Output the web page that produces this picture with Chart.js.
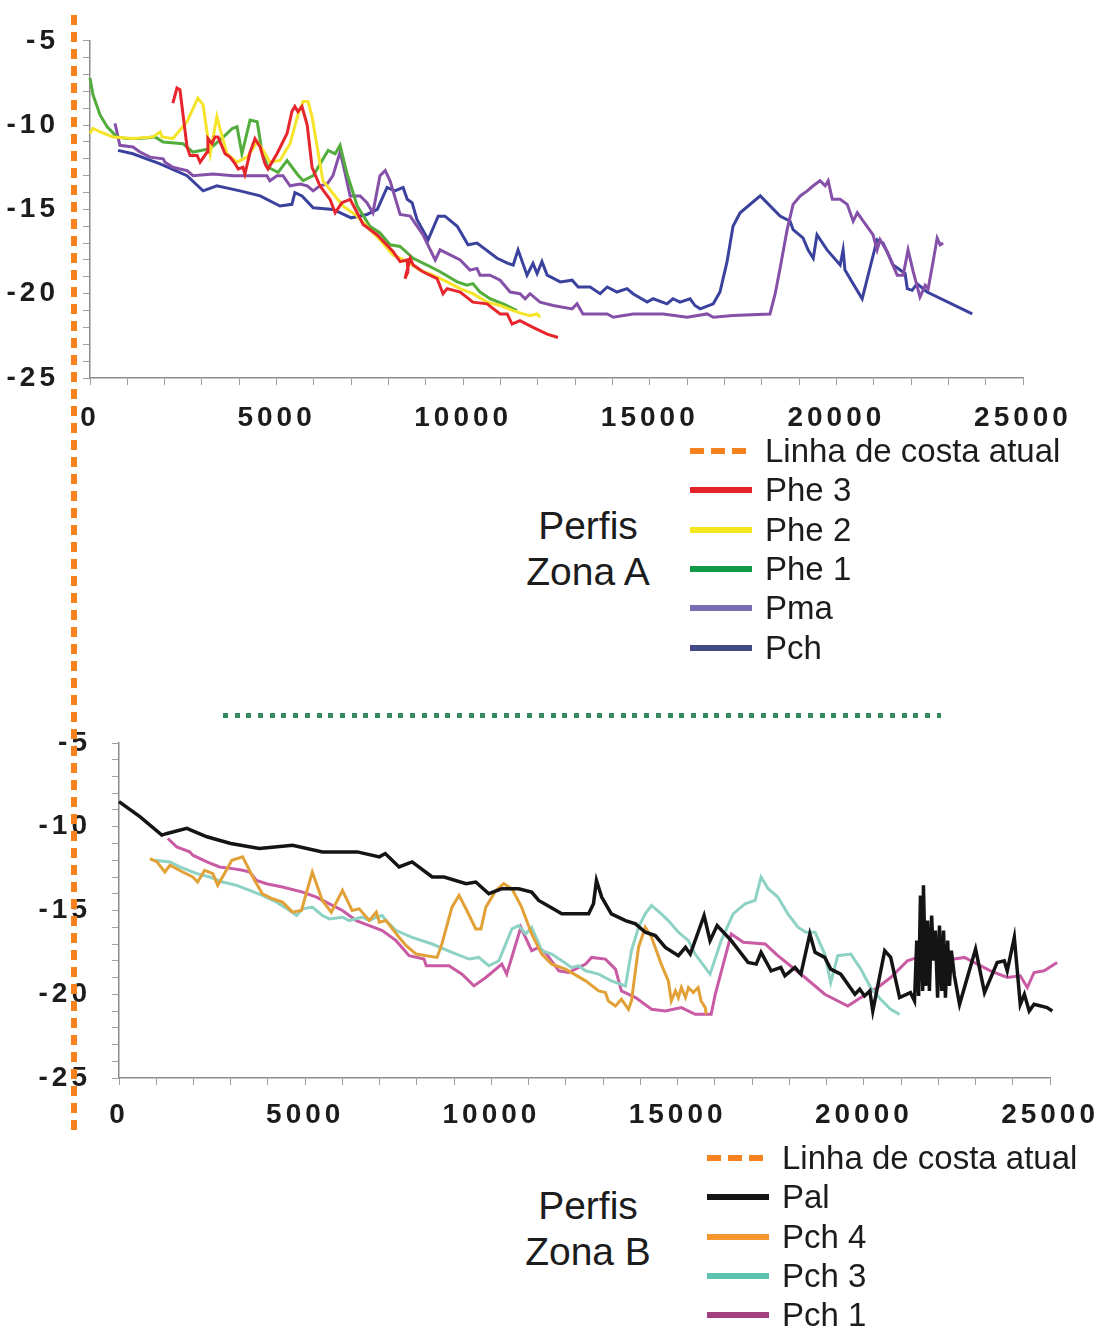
<!DOCTYPE html>
<html>
<head>
<meta charset="utf-8">
<script src="https://cdn.jsdelivr.net/npm/chart.js@4/dist/chart.umd.min.js"></script>
<style>
  body { margin:0; background:#fff; width:1102px; height:1328px; position:relative; overflow:hidden;
         font-family:"Liberation Sans", Arial, sans-serif; color:#1c1c1c; }
  canvas { position:absolute; left:0; }
  #zonaA { top:0; }
  #zonaB { top:700px; }
  .coast { position:absolute; left:71px; top:15px; width:6px; height:1117px; z-index:5;
           background:repeating-linear-gradient(to bottom,#f5821f 0 10px,transparent 10px 17px); }
  .sep { position:absolute; left:223px; top:713px; width:718px; height:5px;
         background:repeating-linear-gradient(to right,#35895f 0 5px,transparent 5px 11.7px); }
  .row { position:absolute; height:40px; line-height:40px; font-size:33px; white-space:nowrap; }
  .row i { position:absolute; left:0; top:17px; width:62px; height:6px; }
  .row span { position:absolute; left:75px; top:0; }
  .row i.dash { background:repeating-linear-gradient(to right,#f5821f 0 14px,transparent 14px 21px); }
  .title { position:absolute; width:200px; text-align:center; font-size:39px; line-height:46px; }
</style>
</head>
<body>
<canvas id="zonaA" width="1102" height="440"></canvas>
<canvas id="zonaB" width="1102" height="440"></canvas>
<div class="sep"></div>
<div id="legA"></div>
<div id="legB"></div>
<div class="title" style="left:488px;top:503px">Perfis<br>Zona A</div>
<div class="title" style="left:488px;top:1183px">Perfis<br>Zona B</div>
<div class="coast"></div>
<script>
// distance (m) / depth (m) pairs

// Zona A
const phe3 = [[2220,-8.7],[2330,-7.8],[2410,-7.9],[2550,-10.4],[2600,-11.3],[2680,-11.8],[2870,-11.8],[2950,-12.2],[3140,-11.6],[3160,-10.8],[3270,-11.1],[3350,-10.7],[3430,-10.7],[3620,-11.7],[3750,-11.9],[3890,-12.3],[3970,-12.6],[4100,-12.5],[4150,-12.9],[4290,-11.6],[4420,-10.8],[4560,-11.3],[4690,-12.3],[4770,-12.6],[5010,-11.7],[5280,-10.5],[5410,-9.2],[5490,-8.9],[5570,-9.2],[5680,-8.9],[5820,-10.0],[5950,-12.5],[6160,-13.6],[6430,-14.4],[6570,-15.2],[6750,-14.6],[6970,-14.4],[7160,-15.2],[7320,-15.9],[7690,-16.5],[8120,-17.5],[8310,-18.1],[8500,-18.0],[8520,-18.7],[8440,-19.1],[8580,-17.9],[8660,-18.3],[8920,-18.7],[9300,-19.1],[9460,-20.0],[9570,-19.7],[9920,-19.9],[10260,-20.5],[10640,-20.6],[10990,-21.2],[11180,-21.2],[11310,-21.8],[11520,-21.6],[11870,-22.0],[12250,-22.4],[12540,-22.6]];
const phe2 = [[0,-10.5],[80,-10.2],[270,-10.4],[620,-10.7],[1150,-10.8],[1690,-10.7],[1880,-10.4],[1930,-10.7],[2220,-10.8],[2600,-9.8],[2890,-8.4],[3030,-8.8],[3220,-11.7],[3400,-9.5],[3480,-10.2],[3670,-11.7],[3940,-12.2],[4210,-11.9],[4480,-11.0],[4640,-11.5],[4820,-12.2],[5090,-12.1],[5360,-11.1],[5570,-9.4],[5710,-8.6],[5840,-8.6],[5950,-9.5],[6080,-11.2],[6240,-13.3],[6490,-14.0],[6780,-14.8],[7160,-15.4],[7500,-16.2],[7770,-16.8],[8120,-17.7],[8500,-18.1],[8840,-18.6],[9190,-18.9],[9570,-19.3],[9920,-19.7],[10260,-20.0],[10640,-20.5],[10990,-20.7],[11340,-21.0],[11600,-21.2],[11790,-21.3],[11980,-21.2],[12060,-21.4]];
const phe1 = [[0,-7.2],[80,-8.2],[270,-9.4],[460,-10.1],[720,-10.7],[990,-10.8],[1340,-10.8],[1740,-10.7],[1960,-11.0],[2490,-11.1],[2760,-11.6],[3220,-11.4],[3670,-10.5],[3810,-10.2],[3940,-10.1],[4070,-11.7],[4290,-9.7],[4480,-9.8],[4610,-11.6],[4770,-12.5],[5040,-12.8],[5280,-12.1],[5550,-12.9],[5710,-13.3],[5980,-13.0],[6380,-11.5],[6570,-11.7],[6700,-11.2],[6890,-12.9],[7160,-14.8],[7500,-16.0],[7770,-16.4],[8040,-17.1],[8310,-17.2],[8660,-17.9],[9030,-18.3],[9380,-18.7],[9840,-19.3],[10100,-19.5],[10260,-19.4],[10450,-19.9],[10720,-20.3],[11070,-20.6],[11440,-21.0]];
const pma = [[670,-9.9],[800,-11.2],[1150,-11.3],[1340,-11.6],[1610,-11.9],[1960,-12.0],[2010,-12.2],[2220,-12.5],[2410,-12.6],[2600,-12.7],[2760,-13.0],[3300,-12.9],[3830,-13.0],[4370,-13.0],[4740,-13.0],[4820,-13.3],[5010,-13.0],[5170,-13.0],[5360,-13.6],[5630,-13.5],[5820,-13.6],[5980,-13.9],[6160,-13.6],[6350,-13.5],[6510,-13.0],[6700,-11.6],[6780,-12.3],[6970,-14.2],[7240,-14.2],[7420,-14.6],[7580,-15.2],[7770,-13.0],[7910,-12.7],[8040,-13.3],[8310,-15.3],[8580,-15.4],[8920,-16.5],[9250,-18.0],[9380,-17.4],[9650,-17.7],[9920,-18.0],[10180,-18.6],[10370,-18.5],[10450,-18.9],[10720,-18.9],[10990,-19.2],[11260,-19.9],[11520,-20.0],[11660,-20.3],[11790,-20.0],[12060,-20.5],[12410,-20.7],[12920,-20.9],[13050,-20.6],[13210,-21.2],[13860,-21.2],[14020,-21.4],[14550,-21.2],[15360,-21.2],[16000,-21.4],[16540,-21.2],[16700,-21.4],[17230,-21.3],[18220,-21.2],[18360,-20.0],[18490,-18.5],[18680,-16.2],[18840,-14.7],[19030,-14.2],[19220,-13.9],[19380,-13.6],[19560,-13.3],[19700,-13.6],[19780,-13.3],[19890,-14.4],[20100,-14.4],[20290,-14.7],[20450,-15.7],[20560,-15.2],[20690,-15.6],[20980,-16.5],[21090,-17.4],[21170,-16.8],[21360,-17.5],[21630,-18.9],[21790,-18.9],[21920,-17.4],[22060,-18.7],[22240,-20.2],[22380,-19.5],[22460,-19.7],[22590,-18.1],[22700,-16.7],[22780,-17.1],[22860,-17.0]];
const pchA = [[750,-11.5],[1150,-11.7],[1880,-12.3],[2600,-13.0],[3030,-13.9],[3400,-13.6],[4020,-13.9],[4560,-14.2],[5090,-14.8],[5410,-14.7],[5490,-14.0],[5680,-14.2],[5980,-14.9],[6510,-15.0],[7000,-15.5],[7420,-15.3],[7700,-15.0],[7960,-13.7],[8170,-13.9],[8390,-13.7],[8500,-14.4],[8630,-14.6],[8760,-15.6],[9060,-16.8],[9330,-15.4],[9510,-15.4],[9840,-16.0],[10130,-17.1],[10370,-17.0],[10910,-17.9],[11200,-18.2],[11340,-18.3],[11470,-17.4],[11710,-18.9],[11870,-18.2],[11980,-18.8],[12110,-18.1],[12250,-18.9],[12600,-19.3],[12920,-19.2],[13080,-19.6],[13400,-19.6],[13670,-20.0],[13860,-19.6],[14120,-19.9],[14390,-19.7],[14550,-20.0],[14930,-20.5],[15090,-20.3],[15460,-20.6],[15620,-20.3],[15810,-20.5],[16080,-20.3],[16210,-20.7],[16350,-20.9],[16700,-20.6],[16880,-19.9],[17070,-18.1],[17230,-16.0],[17420,-15.2],[17960,-14.2],[18490,-15.4],[18760,-15.7],[18840,-16.2],[19110,-16.7],[19240,-17.4],[19380,-17.9],[19480,-16.5],[19750,-17.4],[20100,-18.3],[20180,-17.4],[20230,-18.6],[20690,-20.3],[21090,-16.8],[21250,-17.0],[21520,-18.3],[21840,-18.8],[21900,-19.7],[22030,-19.8],[22160,-19.4],[22430,-19.9],[23640,-21.2]];

// Zona B
const pal = [[0,-8.5],[560,-9.4],[1150,-10.5],[1290,-10.4],[1820,-10.1],[2360,-10.6],[3000,-11.0],[3770,-11.3],[4660,-11.1],[5460,-11.5],[6400,-11.5],[6990,-11.8],[7150,-11.6],[7520,-12.4],[7870,-12.1],[8410,-13.0],[8730,-13.0],[9320,-13.4],[9580,-13.3],[9930,-14.0],[10280,-13.7],[10730,-13.7],[11080,-13.9],[11270,-14.4],[11890,-15.2],[12610,-15.2],[12740,-14.6],[12820,-13.2],[12960,-14.2],[13220,-15.2],[13600,-15.6],[13870,-15.8],[14130,-16.3],[14400,-16.5],[14670,-17.2],[15020,-17.7],[15210,-17.2],[15340,-17.6],[15710,-15.3],[15870,-16.8],[16060,-15.9],[16440,-16.8],[16890,-18.1],[17110,-18.2],[17240,-17.5],[17510,-18.6],[17770,-18.4],[17880,-18.9],[18150,-18.4],[18310,-18.8],[18550,-16.4],[18690,-17.5],[18950,-17.8],[19110,-18.5],[19380,-18.8],[19760,-20.0],[19890,-19.7],[20020,-20.1],[20160,-19.8],[20240,-21.0],[20560,-17.4],[20720,-17.8],[20960,-20.2],[21250,-19.9],[21360,-20.4],[21420,-16.8],[21470,-20.1],[21520,-14.1],[21580,-19.8],[21600,-13.5],[21660,-19.5],[21710,-15.6],[21760,-19.8],[21820,-15.3],[21870,-18.0],[21920,-16.2],[21980,-20.2],[22030,-15.9],[22090,-19.8],[22140,-16.2],[22190,-20.2],[22250,-16.8],[22300,-19.5],[22350,-17.4],[22430,-18.9],[22570,-20.6],[23000,-17.3],[23240,-19.9],[23580,-18.1],[23770,-18.0],[23850,-18.6],[24040,-16.6],[24200,-20.6],[24310,-20.0],[24440,-21.0],[24570,-20.6],[24920,-20.8],[25060,-21.0]];
const pch4 = [[830,-11.9],[1020,-12.1],[1230,-12.7],[1370,-12.3],[1710,-12.7],[1980,-13.0],[2110,-13.3],[2300,-12.6],[2520,-12.8],[2650,-13.5],[2780,-13.0],[3030,-12.0],[3320,-11.8],[3640,-13.2],[3850,-14.0],[4120,-14.3],[4390,-14.5],[4660,-15.1],[4900,-15.0],[5190,-12.7],[5460,-14.4],[5700,-15.1],[6000,-13.8],[6260,-15.0],[6450,-14.9],[6720,-15.6],[6910,-15.1],[6990,-15.7],[7170,-15.6],[7520,-16.6],[7710,-17.1],[7980,-17.6],[8250,-17.7],[8540,-17.8],[8670,-17.0],[8940,-14.8],[9130,-14.1],[9340,-15.0],[9580,-16.1],[9720,-16.1],[9850,-14.8],[10120,-13.8],[10330,-13.4],[10550,-13.7],[10810,-14.8],[11080,-16.4],[11350,-17.6],[11620,-18.2],[11990,-18.5],[12530,-19.2],[12880,-19.8],[13060,-19.9],[13140,-20.4],[13330,-20.7],[13490,-20.3],[13680,-20.9],[13760,-20.4],[13950,-17.2],[14130,-16.0],[14300,-16.6],[14560,-18.2],[14750,-19.2],[14830,-20.4],[14940,-19.8],[15020,-20.2],[15100,-19.6],[15210,-20.2],[15290,-19.6],[15420,-19.9],[15550,-19.6],[15630,-20.4],[15740,-20.8],[15770,-21.2]];
const pch3 = [[960,-12.0],[1370,-12.1],[1630,-12.4],[2090,-12.8],[2440,-13.0],[2780,-13.3],[3160,-13.5],[3510,-13.8],[3850,-14.1],[4230,-14.5],[4580,-15.0],[4770,-15.3],[4930,-14.9],[5190,-14.8],[5460,-15.3],[5650,-15.5],[6000,-15.4],[6180,-15.6],[6530,-15.4],[6720,-15.6],[6910,-15.4],[7070,-15.3],[7170,-15.6],[7440,-16.2],[7870,-16.6],[8410,-17.0],[8940,-17.5],[9400,-17.9],[9660,-17.8],[9930,-18.3],[10200,-18.0],[10550,-16.1],[10730,-15.9],[10920,-16.4],[11080,-16.0],[11350,-17.4],[11620,-17.6],[11890,-18.0],[12150,-18.4],[12340,-18.3],[12530,-18.6],[12880,-18.8],[13220,-19.2],[13600,-19.5],[13760,-17.4],[13950,-16.0],[14130,-15.2],[14300,-14.7],[14560,-15.2],[14750,-15.6],[15020,-16.3],[15290,-16.8],[15470,-17.6],[15870,-18.8],[16170,-16.8],[16490,-15.2],[16810,-14.6],[17080,-14.4],[17240,-13.0],[17430,-13.7],[17690,-14.2],[17960,-15.2],[18230,-16.0],[18440,-16.3],[18690,-16.3],[18950,-17.6],[19110,-19.3],[19300,-17.7],[19650,-17.6],[19920,-18.5],[20180,-19.6],[20450,-20.3],[20720,-20.9],[20960,-21.2]];
const pch1 = [[1310,-10.7],[1550,-11.2],[1900,-11.5],[1980,-11.7],[2360,-12.1],[2700,-12.4],[3050,-12.5],[3320,-12.6],[3510,-12.7],[3690,-13.2],[3960,-13.4],[4390,-13.6],[4930,-13.9],[5300,-14.2],[5650,-14.6],[6000,-15.0],[6370,-15.6],[6720,-15.9],[7070,-16.2],[7440,-16.8],[7790,-17.7],[8190,-17.9],[8250,-18.3],[8860,-18.3],[9210,-18.8],[9530,-19.5],[9850,-19.0],[10280,-18.2],[10410,-18.8],[10790,-16.0],[11080,-17.4],[11270,-17.2],[11480,-17.6],[11810,-18.6],[12070,-18.7],[12530,-18.2],[12690,-17.8],[13060,-17.9],[13330,-18.5],[13490,-19.8],[13870,-20.2],[14300,-20.9],[14670,-21.0],[15100,-20.8],[15470,-21.2],[15900,-21.2],[16010,-20.0],[16440,-16.4],[16760,-16.9],[17350,-17.0],[17690,-17.7],[18420,-19.0],[18950,-20.0],[19570,-20.7],[19920,-20.2],[20370,-19.6],[20720,-19.0],[21170,-18.0],[21440,-17.8],[21900,-17.7],[22430,-17.9],[22700,-17.8],[23050,-18.2],[23400,-18.6],[23850,-19.0],[24200,-18.9],[24390,-19.6],[24570,-18.7],[24840,-18.6],[25190,-18.1],[25650,-17.5]];

const namesA = ['Phe 3', 'Phe 2', 'Phe 1', 'Pma', 'Pch'];
const namesB = ['Pal', 'Pch 4', 'Pch 3', 'Pch 1'];
const coastLabel = 'Linha de costa atual';

const lineColorsA = ['#e6262c', '#f6e42a', '#52ad3c', '#8550a8', '#3a429e'];
const keyColorsA  = ['#e3242b', '#f4e61c', '#109a48', '#7a6cb0', '#424a86'];
const lineColorsB = ['#141414', '#e2a136', '#8ed2c5', '#c95aa4'];
const keyColorsB  = ['#141414', '#f5962f', '#5ec2b1', '#a2417e'];

const FONT = '"Liberation Sans", Arial, sans-serif';

// spread the digits of the tick labels like the original figure
const spacing = {
  id: 'spacing',
  beforeDraw(c) { c.ctx.letterSpacing = '4px'; }
};

function makeChart(id, series, colors, o) {
  const datasets = series.map((s, i) => ({
    data: s.map(p => ({ x: p[0], y: p[1] })),
    borderColor: colors[i],
    borderWidth: i === 0 && o.boldFirst ? 3.5 : 3,
    pointRadius: 0,
    tension: 0,
    fill: false,
    clip: false
  }));
  return new Chart(document.getElementById(id), {
    type: 'line',
    data: { datasets },
    plugins: [spacing],
    options: {
      responsive: false,
      animation: false,
      layout: { padding: { left: 0, right: o.right, top: o.top, bottom: 0 } },
      plugins: { legend: { display: false }, tooltip: { enabled: false } },
      scales: {
        x: {
          type: 'linear', min: 0, max: 25000,
          ticks: {
            stepSize: 1000, autoSkip: false, maxRotation: 0, padding: o.xPad,
            color: '#1c1c1c', font: { family: FONT, size: 28, weight: 'bold' },
            callback: v => v % 5000 === 0 ? String(v) : ''
          },
          grid: { drawOnChartArea: false, drawTicks: true, tickLength: 7, color: '#a0a0a0' },
          border: { color: '#8c8c8c', width: 1.5 },
          afterFit: s => { s.height = 62; }
        },
        y: {
          min: -25, max: -5,
          ticks: {
            stepSize: 1, autoSkip: false, padding: o.yPad,
            color: '#1c1c1c', font: { family: FONT, size: 28, weight: 'bold' },
            callback: v => v % 5 === 0 ? String(v) : ''
          },
          grid: { drawOnChartArea: false, drawTicks: true, tickLength: 7, color: '#a0a0a0' },
          border: { color: '#8c8c8c', width: 1.5 },
          afterFit: s => { s.width = o.yWidth; }
        }
      }
    }
  });
}

makeChart('zonaA', [phe3, phe2, phe1, pma, pchA], lineColorsA,
  { top: 35, right: 79, yWidth: 90, yPad: 24, xPad: 16 });
makeChart('zonaB', [pal, pch4, pch3, pch1], lineColorsB,
  { top: 43, right: 49, yWidth: 119, yPad: 21, xPad: 13, boldFirst: true });

// legends
function legend(el, left, top, names, colors) {
  let html = `<div class="row" style="left:${left}px;top:${top}px"><i class="dash"></i><span>${coastLabel}</span></div>`;
  names.forEach((n, i) => {
    html += `<div class="row" style="left:${left}px;top:${top + 39.3 * (i + 1)}px"><i style="background:${colors[i]}"></i><span>${n}</span></div>`;
  });
  document.getElementById(el).innerHTML = html;
}
legend('legA', 690, 431, namesA, keyColorsA);
legend('legB', 707, 1138, namesB, keyColorsB);
</script>
</body>
</html>
